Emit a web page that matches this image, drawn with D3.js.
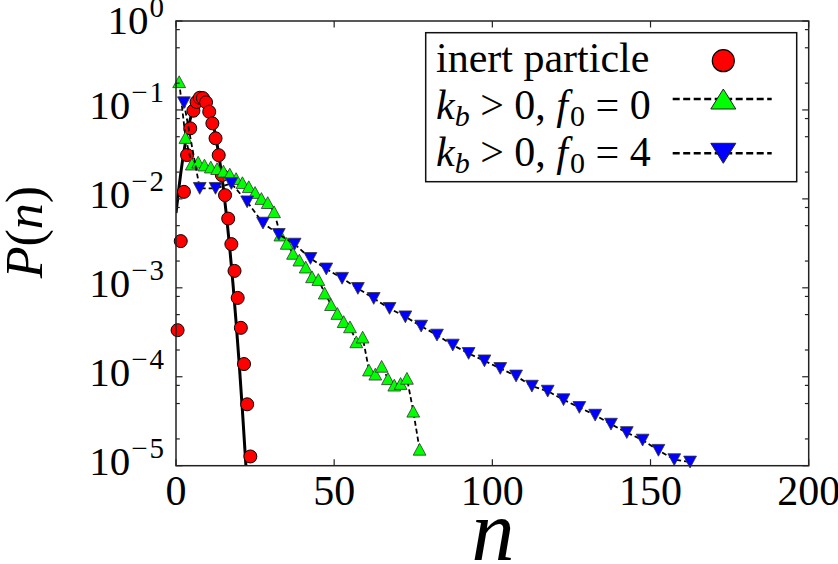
<!DOCTYPE html>
<html><head><meta charset="utf-8">
<script src="https://cdn.jsdelivr.net/npm/d3@7"></script>
</head><body style="margin:0">
<svg id="chart" width="838" height="564" style="display:block;background:#fff"></svg>
<script>
// ---- data ----
const redN = [0.5,1.5,2.5,3.5,4.5,5.5,6.5,7.5,8.5,9.5,10.5,11.5,12.5,13.5,14.5,15.5,16.5,17.5,18.5,19.5,20.5,21.5,22.5,23.5];
const redP = [3.34e-4,3.35e-3,0.0120,0.0311,0.0621,0.098,0.123,0.137,0.136,0.122,0.0955,0.0707,0.048,0.031,0.0185,0.0110,0.0060,0.0031,0.00155,7.7e-4,3.55e-4,1.39e-4,4.9e-5,1.27e-5];

const fitN = [0,1,2,3,4,5,6,7,8,9,10,11,12,13,14,15,16,17,18,19,20,21,22,22.1];
const fitP = [0.00692,0.01403,0.0259,0.0434,0.0661,0.0916,0.1155,0.1324,0.138,0.1309,0.1127,0.0883,0.0630,0.0408,0.0240,0.0129,0.00628,0.00278,0.00112,4.10e-4,1.37e-4,4.14e-5,1.14e-5,1.0e-5];

const greenN = [1,3,5,7,9,11,13,15,17,19,21,23,25,27,29,31,33,35,37,39,41,43,45,47,49,51,53,55,57,59,61,63,65,67,69,71,73,75,77];
const greenP = [0.2076,0.0490,0.0246,0.0259,0.0240,0.0228,0.0219,0.0205,0.0190,0.0169,0.0152,0.0137,0.0118,0.0101,0.00908,0.00716,0.00392,0.00316,0.00244,0.00205,0.00171,0.00133,0.00124,8.72e-4,6.47e-4,5.15e-4,4.17e-4,3.64e-4,2.47e-4,2.79e-4,1.19e-4,1.07e-4,1.31e-4,9.5e-5,8.05e-5,8.4e-5,9.6e-5,4.1e-5,1.53e-5];

const blueN = [2.5,7.5,12.5,17.5,22.5,27.5,32.5,37.5,42.5,47.5,52.5,57.5,62.5,67.5,72.5,77.5,82.5,87.5,92.5,97.5,102.5,107.5,112.5,117.5,122.5,127.5,132.5,137.5,142.5,147.5,152.5,157.5,162.5];
const blueP = [0.1205,0.01313,0.01313,0.0149,0.00927,0.00534,0.00399,0.0031,0.00214,0.00163,0.00128,9.85e-4,7.6e-4,5.87e-4,4.72e-4,3.71e-4,2.94e-4,2.27e-4,1.83e-4,1.51e-4,1.24e-4,1.02e-4,7.84e-5,6.89e-5,5.52e-5,4.52e-5,3.70e-5,2.93e-5,2.36e-5,1.94e-5,1.49e-5,1.17e-5,1.10e-5];

const xTicks = [0,50,100,150,200];
const yExps = [0,-1,-2,-3,-4,-5];
const yMinorSubs = [2,5,8];
const legendLabels = ["inert particle", "kb>0,f0=0", "kb>0,f0=4"];

// ---- layout ----
const L = 176, R = 808.7, T = 21, B = 465.7;
const FONT = '"Liberation Serif"';
const svg = d3.select("#chart");
const x = d3.scaleLinear().domain([0,200]).range([L,R]);
const y = d3.scaleLog().domain([1e-5,1]).range([B,T]);

const zip = (a,b) => a.map((v,i)=>[v,b[i]]);
const red = zip(redN, redP), fit = zip(fitN, fitP), green = zip(greenN, greenP), blue = zip(blueN, blueP);

svg.append("clipPath").attr("id","clip").append("rect").attr("x",L).attr("y",T).attr("width",R-L).attr("height",B-T);

const line = d3.line().x(d=>x(d[0])).y(d=>y(d[1]));

svg.append("path").datum(fit).attr("clip-path","url(#clip)")
  .attr("d", d3.line().x(d=>x(d[0])).y(d=>y(d[1])).curve(d3.curveMonotoneX))
  .attr("fill","none").attr("stroke","#000").attr("stroke-width",3);

svg.append("g").selectAll("circle").data(red).join("circle")
  .attr("cx",d=>x(d[0])).attr("cy",d=>y(d[1])).attr("r",6.5)
  .attr("fill","#ff0000").attr("stroke","#000").attr("stroke-width",1);

function triUp(cx,cy,w,h){return `M${cx},${cy-h/2}L${cx-w/2},${cy+h/2}L${cx+w/2},${cy+h/2}Z`;}
function triDown(cx,cy,w,h){return `M${cx},${cy+h/2}L${cx-w/2},${cy-h/2}L${cx+w/2},${cy-h/2}Z`;}

svg.append("path").datum(green).attr("d",line).attr("fill","none")
  .attr("stroke","#000").attr("stroke-width",1.8).attr("stroke-dasharray","5,3");
svg.append("g").selectAll("path").data(green).join("path")
  .attr("d",d=>triUp(x(d[0]),y(d[1]),12.8,11.8))
  .attr("fill","#00ff00").attr("stroke","#333").attr("stroke-width",0.8);

svg.append("path").datum(blue).attr("d",line).attr("fill","none")
  .attr("stroke","#000").attr("stroke-width",1.8).attr("stroke-dasharray","5,3");
svg.append("g").selectAll("path").data(blue).join("path")
  .attr("d",d=>triDown(x(d[0]),y(d[1]),12.8,11.8))
  .attr("fill","#0000ff").attr("stroke","#333").attr("stroke-width",0.8);

svg.append("rect").attr("x",L).attr("y",T).attr("width",R-L).attr("height",B-T)
  .attr("fill","none").attr("stroke","#222").attr("stroke-width",1.5);

const axG = svg.append("g").attr("stroke","#222").attr("stroke-width",1.2);
xTicks.forEach(t=>{
  const px = x(t);
  axG.append("line").attr("x1",px).attr("x2",px).attr("y1",B).attr("y2",B-6.5);
  axG.append("line").attr("x1",px).attr("x2",px).attr("y1",T).attr("y2",T+6.5);
});
yExps.forEach(e=>{
  const py = y(Math.pow(10,e));
  axG.append("line").attr("x1",L).attr("x2",L+6.5).attr("y1",py).attr("y2",py);
  axG.append("line").attr("x1",R).attr("x2",R-6.5).attr("y1",py).attr("y2",py);
  if (e > -5) {
    yMinorSubs.forEach(s=>{
      const pm = y(s*Math.pow(10,e-1));
      axG.append("line").attr("x1",L).attr("x2",L+3.8).attr("y1",pm).attr("y2",pm);
      axG.append("line").attr("x1",R).attr("x2",R-3.8).attr("y1",pm).attr("y2",pm);
    });
  }
});

function txt(sel){ return sel.append("text").style("font-family",FONT).attr("fill","#000"); }

xTicks.forEach(t=>{
  txt(svg).attr("x",x(t)).attr("y",505).attr("text-anchor","middle").attr("font-size",42).text(t);
});
yExps.forEach(e=>{
  const py = y(Math.pow(10,e));
  const tx = txt(svg).attr("x",164).attr("y",py+(e===0?13:9)).attr("text-anchor","end").attr("font-size",41);
  tx.append("tspan").text("10");
  const sup = tx.append("tspan").attr("dy",-17).attr("dx",1).attr("font-size",29);
  if (e===0) sup.text("0");
  else { sup.text("\u2212"); tx.append("tspan").attr("font-size",29).attr("dx",2).text(-e); }
});

txt(svg).attr("x",493).attr("y",560).attr("text-anchor","middle")
  .style("font-style","italic").attr("font-size",86).text("n");
const yl = txt(svg).attr("transform","translate(42,232) rotate(-90)").attr("text-anchor","middle").attr("font-size",52);
yl.append("tspan").style("font-style","italic").text("P");
yl.append("tspan").text("(");
yl.append("tspan").style("font-style","italic").text("n");
yl.append("tspan").text(")");

const lg = svg.append("g");
lg.append("rect").attr("x",425.7).attr("y",32.7).attr("width",371).attr("height",149)
  .attr("fill","#fff").attr("stroke","#111").attr("stroke-width",1.5);
txt(lg).attr("x",436).attr("y",71.5).attr("font-size",42).text(legendLabels[0]);
function mathRow(yb, last){
  const t = txt(lg).attr("x",436).attr("y",yb).attr("font-size",42);
  t.append("tspan").style("font-style","italic").text("k");
  t.append("tspan").style("font-style","italic").attr("font-size",30).attr("dy",7).text("b");
  t.append("tspan").attr("dy",-7).text(" > 0, ");
  t.append("tspan").style("font-style","italic").text("f");
  t.append("tspan").attr("font-size",30).attr("dy",7).attr("dx",2).text("0");
  t.append("tspan").attr("dy",-7).text(" = " + last);
}
mathRow(119, "0");
mathRow(165.5, "4");
const mx = 723.3;
lg.append("circle").attr("cx",mx).attr("cy",60.7).attr("r",11)
  .attr("fill","#ff0000").attr("stroke","#000").attr("stroke-width",1.2);
[[99,"up","#00ff00"],[153.3,"down","#0000ff"]].forEach(([ly,dir,col])=>{
  lg.append("line").attr("x1",672.7).attr("x2",771.7).attr("y1",ly).attr("y2",ly)
    .attr("stroke","#000").attr("stroke-width",2.4).attr("stroke-dasharray","7,3.5");
  lg.append("path").attr("d", dir==="up" ? triUp(mx,ly,25,20) : triDown(mx,ly,25,20))
    .attr("fill",col).attr("stroke","#222").attr("stroke-width",1);
});
</script>
</body></html>
